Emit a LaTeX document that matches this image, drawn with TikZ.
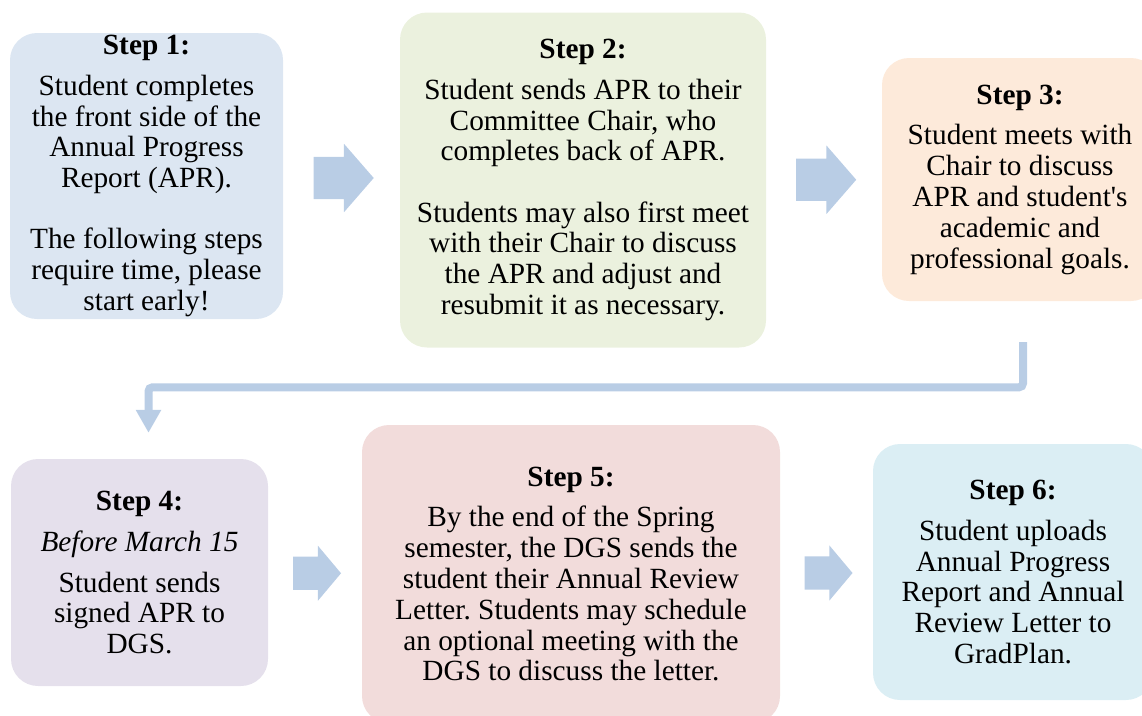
\documentclass[tikz,border=0pt]{standalone}
\usepackage{fontspec}
\setmainfont{Liberation Serif}
\usepackage{tikz}
\usetikzlibrary{arrows.meta,positioning,calc,shapes.arrows}

\definecolor{stepone}{HTML}{DCE6F2}
\definecolor{steptwo}{HTML}{EBF1DE}
\definecolor{stepthree}{HTML}{FDEADA}
\definecolor{stepfour}{HTML}{E5E0EC}
\definecolor{stepfive}{HTML}{F2DCDB}
\definecolor{stepsix}{HTML}{DBEEF4}
\definecolor{flowarrow}{HTML}{B9CDE5}

\newcommand{\stephead}[1]{{\bfseries #1}\\[10pt]}
\frenchspacing

\begin{document}
\begin{tikzpicture}[x=1pt, y=-1pt,
    stepbox/.style={rounded corners=27pt, inner sep=0pt, align=center,
      font=\fontsize{29.3}{30.8}\selectfont},
    bigarrow/.style={single arrow, fill=flowarrow, inner xsep=0pt, inner ysep=21pt,
      minimum height=60pt, single arrow head extend=13pt,
      single arrow tip angle=98, xshift=-7pt},
    smallarrow/.style={single arrow, fill=flowarrow, inner xsep=0pt, inner ysep=16.5pt,
      minimum height=48pt, single arrow head extend=11pt,
      single arrow tip angle=100, xshift=-5pt},
    elbow/.style={draw=flowarrow, line width=8pt, rounded corners=4pt,
      -{Triangle[width=24pt, length=23pt]}}]
          \useasboundingbox (0,0) rectangle (1142,715);
          \clip (0,0) rectangle (1142,715);

          \node[stepbox, fill=stepone, minimum width=273pt, minimum height=286pt] (s1) at (146.5,176)
            {\stephead{Step 1:}Student completes\\ the front side of the\\ Annual Progress\\ Report (APR).\\[30.5pt]
             The following steps\\ require time, please\\ start early!};
          \node[stepbox, fill=steptwo, minimum width=366pt, minimum height=335pt] (s2) at (583,180)
            {\stephead{Step 2:}Student sends APR to their\\ Committee Chair, who\\ completes back of APR.\\[30.5pt]
             Students may also first meet\\ with their Chair to discuss\\ the APR and adjust and\\ resubmit it as necessary.};
          \node[stepbox, fill=stepthree, minimum width=276pt, minimum height=243pt] (s3) at (1020,179.5)
            {\stephead{Step 3:}Student meets with\\ Chair to discuss\\ APR and student\textquotesingle s\\ academic and\\ professional goals.};

          \node[stepbox, fill=stepfour, minimum width=257pt, minimum height=227pt] (s4) at (139.5,572.5)
            {\stephead{Step 4:}{\itshape Before March 15}\\[10pt] Student sends\\ signed APR to\\ DGS.};
          \node[stepbox, fill=stepfive, minimum width=418pt, minimum height=298pt] (s5) at (571,574)
            {\stephead{Step 5:}By the end of the Spring\\ semester, the DGS sends the\\ student their Annual Review\\
             Letter. Students may schedule\\ an optional meeting with the\\ DGS to discuss the letter.};
          \node[stepbox, fill=stepsix, minimum width=280pt, minimum height=256pt] (s6) at (1013,572)
            {\stephead{Step 6:}Student uploads\\ Annual Progress\\ Report and Annual\\ Review Letter to\\ GradPlan.};

          \node[bigarrow] (a12) at ($(s1.east)!0.5!(s2.west)$) {};
          \node[bigarrow] (a23) at ($(s2.east)!0.5!(s3.west)$) {};
          \node[smallarrow] (a45) at ($(s4.east)!0.5!(s5.west)$) {};
          \node[smallarrow] (a56) at ($(s5.east)!0.5!(s6.west)$) {};

          \coordinate (from3) at ($(s3.south)+(3,41)$);
          \coordinate (to4) at ($(s4.north)+(9,-26)$);
          \draw[elbow] (from3) |- ($(to4)+(0,-45.5)$) -- (to4);
        \end{tikzpicture}
\end{document}
